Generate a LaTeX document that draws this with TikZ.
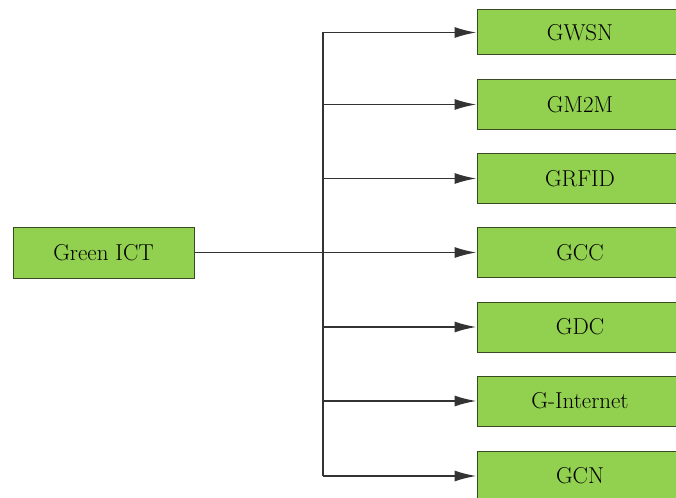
\documentclass[tikz,border=0pt]{standalone}
\usetikzlibrary{arrows.meta}
\definecolor{leaf}{HTML}{92D050}
\definecolor{edge}{HTML}{3A4A22}
\begin{document}
\begin{tikzpicture}[x=1pt,y=-1pt,
  box/.style={draw=edge, line width=1pt, fill=leaf, inner sep=0pt,
    font=\rmfamily\fontsize{23}{26}\selectfont, text=black},
  rootbox/.style={box, minimum width=181pt, minimum height=51pt},
  leafbox/.style={box, minimum width=206pt, minimum height=50pt},
  link/.style={draw=black!80, line width=1.7pt},
  arr/.style={link, -{Latex[length=22pt,width=11pt]}}]
  \useasboundingbox (0,0) rectangle (676,497);
  \clip (0,0) rectangle (676,497);

  % source node
  \node[rootbox] (ict) at (103.5,252.5) {Green ICT};

  % target nodes
  \node[leafbox, minimum height=45pt] (gwsn) at (580,32.5) {GWSN};
  \node[leafbox] (gm2m) at (580,104.5) {GM2M};
  \node[leafbox] (grfid) at (580,178.5) {GRFID};
  \node[leafbox] (gcc) at (580,252.5) {GCC};
  \node[leafbox] (gdc) at (580,327) {GDC};
  \node[leafbox] (gnet) at (580,401) {G-Internet};
  \node[leafbox] (gcn) at (580,476) {GCN};

  % trunk of the tree
  \coordinate (trunk) at (323,252.5);
  \draw[link] (trunk |- gwsn.west) -- (trunk |- gcn.west);

  % branches
  \draw[arr] (ict.east) -- (gcc.west);
  \foreach \n in {gwsn,gm2m,grfid,gdc,gnet,gcn}
    \draw[arr] (trunk |- \n.west) -- (\n.west);
\end{tikzpicture}
\end{document}
